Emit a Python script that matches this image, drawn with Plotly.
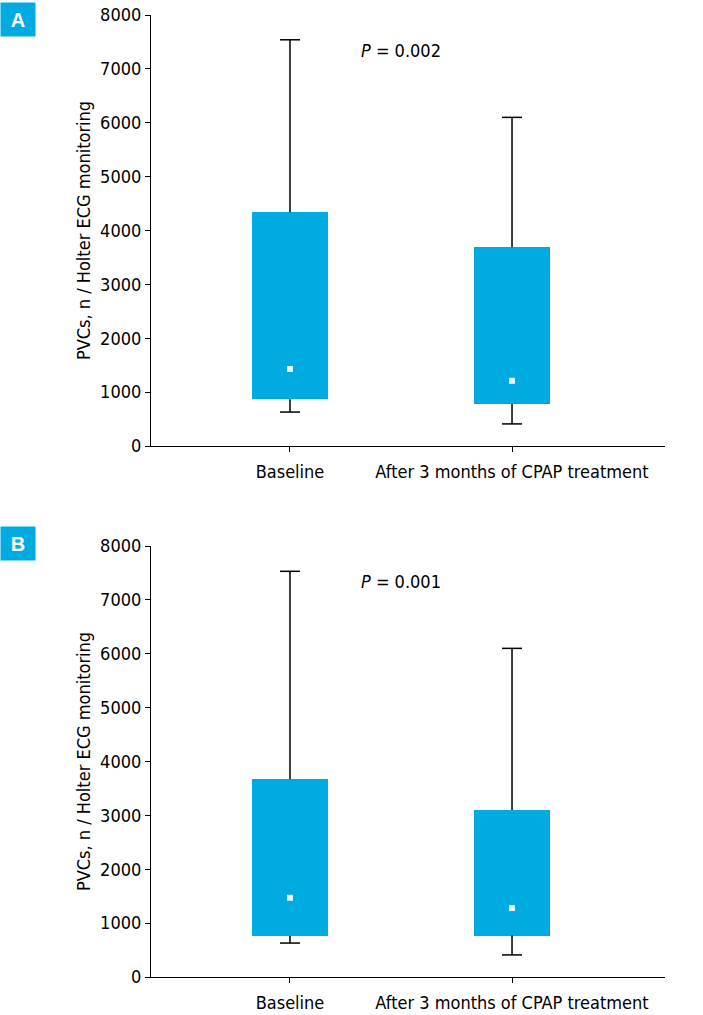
import plotly.graph_objects as go

categories = ["Baseline", "After 3 months of CPAP treatment"]
yticks = [0, 1000, 2000, 3000, 4000, 5000, 6000, 7000, 8000]

# Panel A
a_lower = [630, 410]
a_q1 = [870, 780]
a_median = [1430, 1210]
a_q3 = [4340, 3690]
a_upper = [7540, 6100]
a_p = "<i>P</i> = 0.002"

# Panel B
b_lower = [630, 410]
b_q1 = [760, 770]
b_median = [1470, 1280]
b_q3 = [3670, 3100]
b_upper = [7530, 6100]
b_p = "<i>P</i> = 0.001"

BLUE = "#00ABE1"
FONT = "Liberation Sans Narrow, DejaVu Sans Condensed, DejaVu Sans, sans-serif"
xpos = list(range(len(categories)))
BOX_W = 0.34
CAP = 0.045

fig = go.Figure()


def add_panel(lower, q1, med, q3, upper, xa, ya):
    fig.add_trace(go.Bar(x=xpos, y=[h - l for h, l in zip(q3, q1)], base=q1, width=BOX_W,
                         marker=dict(color=BLUE, line=dict(width=0)), xaxis=xa, yaxis=ya,
                         showlegend=False, hoverinfo="skip"))
    wx, wy = [], []
    for i, x in enumerate(xpos):
        wx += [x, x, None, x - CAP, x + CAP, None, x, x, None, x - CAP, x + CAP, None]
        wy += [q3[i], upper[i], None, upper[i], upper[i], None,
               q1[i], lower[i], None, lower[i], lower[i], None]
    fig.add_trace(go.Scatter(x=wx, y=wy, mode="lines", line=dict(color="black", width=1.5),
                             xaxis=xa, yaxis=ya, showlegend=False, hoverinfo="skip"))
    fig.add_trace(go.Scatter(x=xpos, y=med, mode="markers",
                             marker=dict(symbol="square", size=6, color="#E8F6FC", line=dict(width=0)),
                             xaxis=xa, yaxis=ya, showlegend=False, hoverinfo="skip"))


add_panel(a_lower, a_q1, a_median, a_q3, a_upper, "x", "y")
add_panel(b_lower, b_q1, b_median, b_q3, b_upper, "x2", "y2")

W, H = 703, 1015
xdom = [151 / W, 665 / W]
xrange = [-0.626, 1.689]
tfont = dict(family=FONT, size=18, color="black")

xcommon = dict(range=xrange, tickvals=xpos, ticktext=categories, showline=True,
               linecolor="black", linewidth=1.2, ticks="outside", ticklen=5, tickcolor="black",
               showgrid=False, zeroline=False, tickfont=tfont, automargin=False,
               ticklabelstandoff=4, fixedrange=True)
ycommon = dict(range=[0, 8000], tickvals=yticks, showline=True, linecolor="black", linewidth=1.2,
               ticks="outside", ticklen=5, tickcolor="black", showgrid=False, zeroline=False,
               tickfont=tfont, automargin=False,
               title=dict(text="PVCs, n / Holter ECG monitoring", font=tfont, standoff=4))

fig.update_layout(
    width=W, height=H, margin=dict(l=0, r=0, t=0, b=0, autoexpand=False),
    paper_bgcolor="white", plot_bgcolor="white", bargap=0,
    xaxis=dict(domain=xdom, anchor="y", **xcommon),
    yaxis=dict(domain=[1 - 446 / H, 1 - 15 / H], anchor="x", **ycommon),
    xaxis2=dict(domain=xdom, anchor="y2", **xcommon),
    yaxis2=dict(domain=[1 - 977 / H, 1 - 546 / H], anchor="x2", **ycommon),
)

for xr, yr, txt in [("x", "y", a_p), ("x2", "y2", b_p)]:
    fig.add_annotation(x=0.5, y=7350, xref=xr, yref=yr, text=txt, showarrow=False, font=tfont)

for lbl, yc in [("A", 19.5), ("B", 543.5)]:
    fig.add_annotation(x=0, y=1 - yc / H, xref="paper", yref="paper", xanchor="left",
                       yanchor="middle", text="<b>%s</b>" % lbl, showarrow=False,
                       width=30, height=29, bgcolor=BLUE, borderpad=2,
                       font=dict(family="Liberation Sans, Arial, sans-serif", size=20, color="white"))

fig.write_html("out.html")
